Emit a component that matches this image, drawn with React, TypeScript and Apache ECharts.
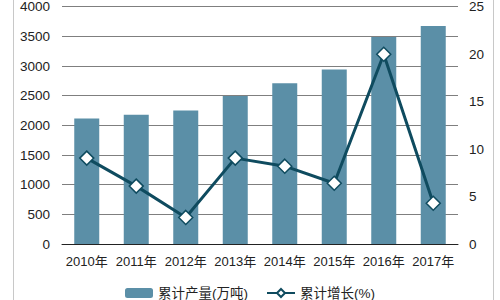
import React, { useEffect, useRef } from "react";
import * as echarts from "echarts";

const categories = ["2010年", "2011年", "2012年", "2013年", "2014年", "2015年", "2016年", "2017年"];
const output = [2115, 2180, 2250, 2497, 2710, 2940, 3490, 3677];
const growth = [9.05, 6.1, 2.8, 9.05, 8.2, 6.4, 20.0, 4.3];
const outputName = "累计产量(万吨)";
const growthName = "累计增长(%)";

const FONT = '"Liberation Sans", Arial, "Noto Sans CJK SC", sans-serif';

export default function App() {
  const ref = useRef<HTMLDivElement>(null);
  useEffect(() => {
    if (!ref.current) return;
    const chart = echarts.init(ref.current, undefined, { renderer: "svg" });
    chart.setOption({
      animation: false,
      backgroundColor: "#ffffff",
      textStyle: { fontFamily: FONT },
      grid: { left: 62, right: 42, top: 0, bottom: 56 },
      legend: {
        top: 280,
        left: "center",
        itemGap: 18,
        itemWidth: 28,
        itemHeight: 10,
        textStyle: { fontSize: 13.5, color: "#222", fontFamily: FONT, lineHeight: 16 },
        data: [outputName, growthName],
      },
      graphic: [
        { type: "line", shape: { x1: 13.5, y1: 0, x2: 13.5, y2: 300 }, style: { stroke: "#c8c8c8", lineWidth: 1 } },
        { type: "line", shape: { x1: 493.5, y1: 0, x2: 493.5, y2: 300 }, style: { stroke: "#c8c8c8", lineWidth: 1 } },
      ],
      xAxis: {
        type: "category",
        data: categories,
        axisLine: { show: true, lineStyle: { color: "#222", width: 1 } },
        axisTick: { show: false },
        axisLabel: { color: "#222", fontSize: 13, margin: 11, interval: 0, fontFamily: FONT },
      },
      yAxis: [
        {
          type: "value",
          min: 0,
          max: 4000,
          interval: 500,
          axisLine: { show: false },
          axisTick: { show: false },
          axisLabel: {
            color: "#222",
            fontSize: 13.5,
            margin: 12,
            fontFamily: FONT,
            formatter: (v: number) => String(v),
          },
          splitLine: { show: true, lineStyle: { color: "#7f7f7f", width: 1 } },
        },
        {
          type: "value",
          min: 0,
          max: 25,
          interval: 5,
          axisLine: { show: false },
          axisTick: { show: false },
          axisLabel: {
            color: "#222",
            fontSize: 13.5,
            margin: 11,
            fontFamily: FONT,
            formatter: (v: number) => String(v),
          },
          splitLine: { show: false },
        },
      ],
      series: [
        {
          name: outputName,
          type: "bar",
          data: output,
          barWidth: 25,
          itemStyle: { color: "#5b8fa7" },
        },
        {
          name: growthName,
          type: "line",
          yAxisIndex: 1,
          data: growth,
          symbol: "diamond",
          symbolSize: 14,
          lineStyle: { color: "#0f4b5f", width: 3 },
          itemStyle: { color: "#ffffff", borderColor: "#0f4b5f", borderWidth: 1.5 },
          z: 5,
        },
      ],
    });
    return () => chart.dispose();
  }, []);
  return <div ref={ref} style={{ width: 500, height: 300, position: "absolute", left: 0, top: 0 }} />;
}
